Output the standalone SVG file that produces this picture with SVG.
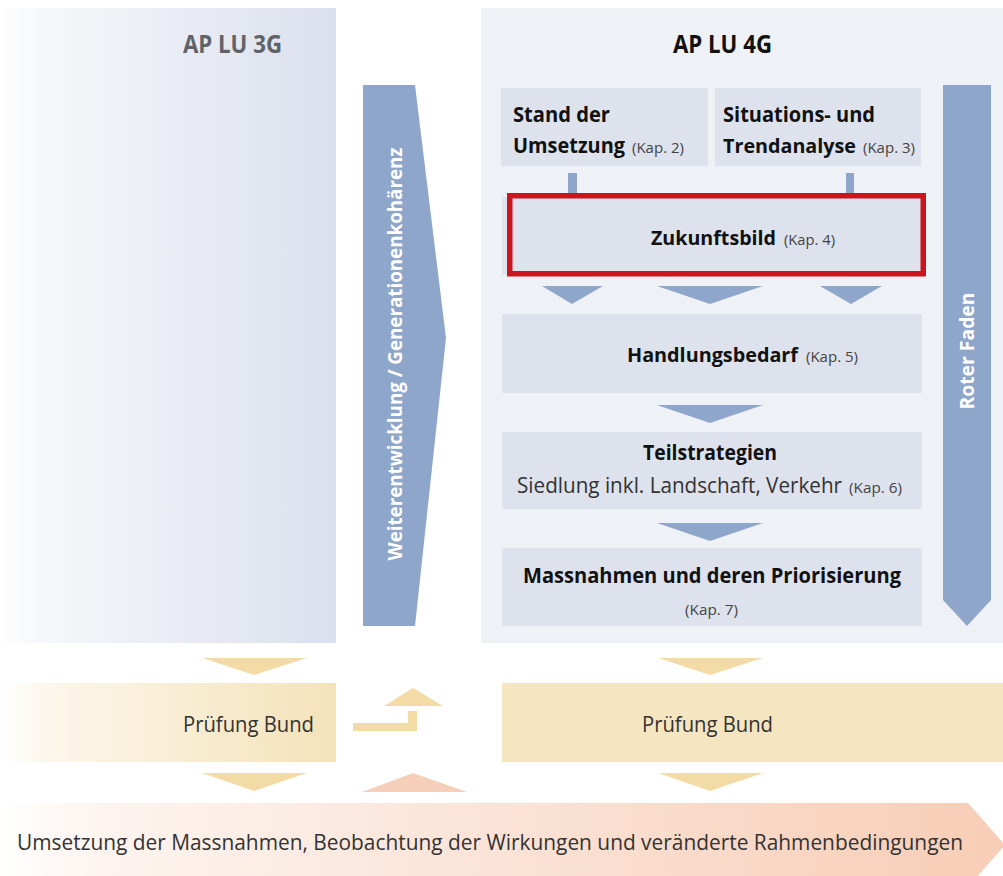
<svg xmlns="http://www.w3.org/2000/svg" width="1003" height="876" viewBox="0 0 1003 876">
<defs>
<linearGradient id="gLeft" x1="0" y1="0" x2="1" y2="0">
<stop offset="0" stop-color="#ffffff"/>
<stop offset="0.12" stop-color="#f6f7fa"/>
<stop offset="1" stop-color="#dbe0ed"/>
</linearGradient>
<linearGradient id="gPruef" x1="0" y1="0" x2="1" y2="0">
<stop offset="0" stop-color="#ffffff"/>
<stop offset="0.15" stop-color="#fcf6ea"/>
<stop offset="1" stop-color="#f4e2b9"/>
</linearGradient>
<linearGradient id="gBottom" x1="0" y1="0" x2="1" y2="0">
<stop offset="0" stop-color="#ffffff"/>
<stop offset="0.1" stop-color="#fdf4ef"/>
<stop offset="1" stop-color="#f7cdb6"/>
</linearGradient>
</defs>
<style>
.t{font-family:"Open Sans","Liberation Sans",sans-serif;}
.b{font-weight:700;}
.box{fill:#dde2ed;}
.blue{fill:#8fa6cb;}
.yel{fill:#f3dba6;}
.h{font-size:22px;fill:#111111;}
.h2{font-size:20px;fill:#111111;}
.k{font-size:15px;fill:#444444;font-weight:400;}
.r{font-size:21px;fill:#333333;}
.w{font-size:20px;fill:#ffffff;}
</style>

<g id="panel-3g">
<rect x="0" y="8" width="336" height="635" fill="url(#gLeft)"/>
<text class="t b" x="183" y="53" font-size="25" fill="#5f6368" textLength="99" lengthAdjust="spacingAndGlyphs">AP LU 3G</text>
</g>

<g id="panel-4g">
<rect x="481" y="8" width="522" height="635" fill="#eef1f6"/>
<text class="t b" x="673" y="53" font-size="25" fill="#111111" textLength="99" lengthAdjust="spacingAndGlyphs">AP LU 4G</text>
</g>

<g id="weiterentwicklung">
<polygon class="blue" points="363,85 415,85 446,338 415,626 363,626"/>
<text class="t b w" transform="translate(402,354) rotate(-90)" text-anchor="middle" textLength="413" lengthAdjust="spacingAndGlyphs">Weiterentwicklung / Generationenkohärenz</text>
</g>

<g id="roter-faden">
<polygon class="blue" points="943,85 991,85 991,600 967,626 943,600"/>
<text class="t b w" font-size="21" transform="translate(974,351) rotate(-90)" text-anchor="middle" textLength="117" lengthAdjust="spacingAndGlyphs">Roter Faden</text>
</g>

<g id="stand">
<rect class="box" x="501" y="88" width="207" height="78"/>
<text class="t b h" x="513" y="122" textLength="97" lengthAdjust="spacingAndGlyphs">Stand der</text>
<text class="t b h" x="513" y="153" textLength="112" lengthAdjust="spacingAndGlyphs">Umsetzung</text>
<text class="t k" x="632" y="153" textLength="52" lengthAdjust="spacingAndGlyphs">(Kap. 2)</text>
</g>

<g id="situation">
<rect class="box" x="715" y="88" width="206" height="78"/>
<text class="t b h" x="723" y="122" textLength="152" lengthAdjust="spacingAndGlyphs">Situations- und</text>
<text class="t b h2" x="723" y="153" textLength="133" lengthAdjust="spacingAndGlyphs">Trendanalyse</text>
<text class="t k" x="863" y="153" textLength="52" lengthAdjust="spacingAndGlyphs">(Kap. 3)</text>
</g>

<g id="zukunftsbild">
<rect class="box" x="502" y="197" width="419" height="78"/>
<rect x="509.75" y="195.75" width="413.5" height="78" fill="none" stroke="#cc141f" stroke-width="5.5"/>
<text class="t b h2" x="651" y="245" textLength="125" lengthAdjust="spacingAndGlyphs">Zukunftsbild</text>
<text class="t k" x="784" y="245" textLength="51" lengthAdjust="spacingAndGlyphs">(Kap. 4)</text>
</g>

<g id="handlungsbedarf">
<rect class="box" x="502" y="314" width="420" height="79"/>
<text class="t b h2" x="627" y="362" textLength="171" lengthAdjust="spacingAndGlyphs">Handlungsbedarf</text>
<text class="t k" x="806" y="362" textLength="52" lengthAdjust="spacingAndGlyphs">(Kap. 5)</text>
</g>

<g id="teilstrategien">
<rect class="box" x="502" y="432" width="420" height="77"/>
<text class="t b h" x="643" y="460" textLength="134" lengthAdjust="spacingAndGlyphs">Teilstrategien</text>
<text class="t r" x="517" y="493" textLength="325" lengthAdjust="spacingAndGlyphs">Siedlung inkl. Landschaft, Verkehr</text>
<text class="t k" x="849" y="493" textLength="53" lengthAdjust="spacingAndGlyphs">(Kap. 6)</text>
</g>

<g id="massnahmen">
<rect class="box" x="502" y="548" width="420" height="78"/>
<text class="t b h" x="523" y="583" textLength="378" lengthAdjust="spacingAndGlyphs">Massnahmen und deren Priorisierung</text>
<text class="t k" x="685" y="615" textLength="53" lengthAdjust="spacingAndGlyphs">(Kap. 7)</text>
</g>

<g id="pruefung-3g">
<rect x="0" y="683" width="336" height="79" fill="url(#gPruef)"/>
<text class="t r" x="183" y="732" textLength="131" lengthAdjust="spacingAndGlyphs">Prüfung Bund</text>
</g>

<g id="pruefung-4g">
<rect x="502" y="683" width="501" height="79" fill="#f6e5c1"/>
<text class="t r" x="642" y="732" textLength="131" lengthAdjust="spacingAndGlyphs">Prüfung Bund</text>
</g>

<g id="umsetzung">
<polygon points="0,803 968,803 1005,845 968,887 0,887" fill="url(#gBottom)"/>
<text class="t r" x="17" y="850" textLength="946" lengthAdjust="spacingAndGlyphs">Umsetzung der Massnahmen, Beobachtung der Wirkungen und veränderte Rahmenbedingungen</text>
</g>

<g id="connectors">
<rect class="blue" x="568" y="173" width="9" height="20"/>
<rect class="blue" x="846" y="173" width="8" height="20"/>
<polygon class="blue" points="542,286 603,286 572,304"/>
<polygon class="blue" points="657,286 763,286 710,304"/>
<polygon class="blue" points="820,286 882,286 851,304"/>
<polygon class="blue" points="657,405 763,405 710,423"/>
<polygon class="blue" points="657,523 763,523 710,541"/>
<polygon class="yel" points="202,658 307,658 254,675"/>
<polygon class="yel" points="202,773 307,773 254,791"/>
<polygon class="yel" points="658,658 763,658 710,675"/>
<polygon class="yel" points="658,773 763,773 710,791"/>
<polygon class="yel" points="353,723 408,723 408,711 417,711 417,731 353,731"/>
<polygon class="yel" points="384,706 443,706 413,688"/>
<polygon fill="#f5cfb9" points="362,792 467,792 413,773"/>
</g>
</svg>
